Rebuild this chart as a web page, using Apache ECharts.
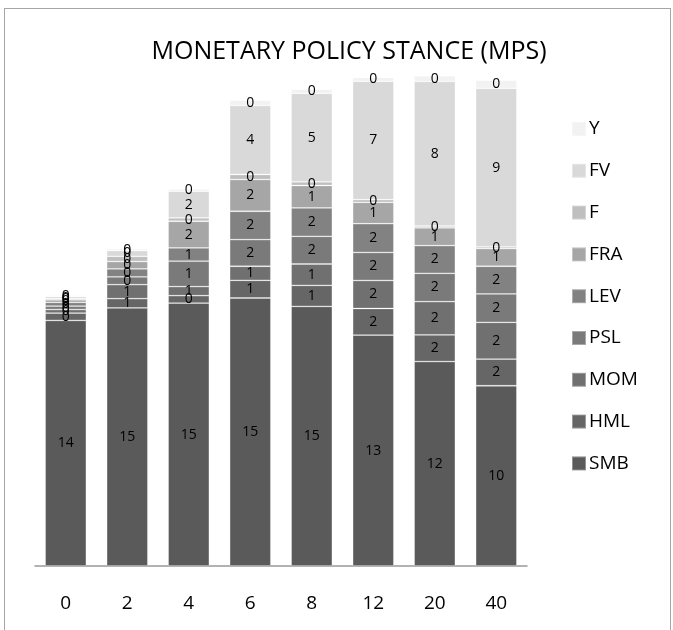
<!DOCTYPE html>
<html>
<head>
<meta charset="utf-8">
<script src="https://cdn.jsdelivr.net/npm/echarts@6/dist/echarts.min.js"></script>
<style>
html,body{margin:0;padding:0;background:#fff;}
#frame{position:absolute;left:4px;top:8px;width:667px;height:640px;border:1.5px solid #a6a6a6;border-bottom:none;box-sizing:border-box;}
#main{position:absolute;left:0;top:0;width:673px;height:630px;}
</style>
</head>
<body>
<div id="frame"></div>
<div id="main"></div>
<script>
var categories = ['0','2','4','6','8','12','20','40'];
var seriesNames = ['SMB','HML','MOM','PSL','LEV','FRA','F','FV','Y'];
var SMB = [14.02, 14.73, 15.01, 15.30, 14.82, 13.18, 11.67, 10.29];
var HML = [0.42, 0.53, 0.42, 1.01, 1.20, 1.52, 1.52, 1.52];
var MOM = [0.20, 0.80, 0.52, 0.80, 1.22, 1.60, 1.90, 2.10];
var PSL = [0.20, 0.45, 1.45, 1.52, 1.58, 1.60, 1.62, 1.62];
var LEV = [0.21, 0.45, 0.76, 1.62, 1.62, 1.64, 1.58, 1.58];
var FRA = [0.14, 0.42, 1.52, 1.81, 1.28, 1.22, 1.01, 1.01];
var F   = [0.07, 0.30, 0.19, 0.29, 0.21, 0.15, 0.11, 0.10];
var FV  = [0.12, 0.33, 1.52, 3.94, 5.05, 6.76, 8.25, 9.05];
var Y   = [0.07, 0.11, 0.13, 0.29, 0.23, 0.21, 0.32, 0.46];
var legendOrder = ['Y','FV','F','FRA','LEV','PSL','MOM','HML','SMB'];

var values = {SMB:SMB, HML:HML, MOM:MOM, PSL:PSL, LEV:LEV, FRA:FRA, F:F, FV:FV, Y:Y};
var colors = {SMB:'#5a5a5a', HML:'#666666', MOM:'#707070', PSL:'#7a7a7a', LEV:'#828282', FRA:'#a6a6a6', F:'#bfbfbf', FV:'#d9d9d9', Y:'#f2f2f2'};
var FONT = '"Open Sans", "Noto Sans", sans-serif';

var chart = echarts.init(document.getElementById('main'));
chart.setOption({
  animation: false,
  title: {
    text: 'MONETARY POLICY STANCE (MPS)',
    left: 344, top: 34, textAlign: 'center',
    textStyle: {fontFamily: FONT, fontSize: 25, fontWeight: 'normal', color: '#000'}
  },
  legend: {
    orient: 'vertical', left: 566, top: 112,
    itemWidth: 14, itemHeight: 14, itemGap: 17.8, icon: 'rect',
    data: legendOrder,
    textStyle: {fontFamily: FONT, fontSize: 19, color: '#000', lineHeight: 24, padding: [0,0,0,-2]}
  },
  grid: {left: 35, right: 146, top: 72, bottom: 64},
  xAxis: {
    type: 'category', data: categories,
    axisLine: {lineStyle: {color: '#999999', width: 1.5}},
    axisTick: {show: false},
    axisLabel: {fontFamily: FONT, fontSize: 19, color: '#000', margin: 28}
  },
  yAxis: {type: 'value', min: 0, max: 28.2, show: false, splitLine: {show: false}},
  series: seriesNames.map(function(n){
    return {
      name: n, type: 'bar', stack: 'total', data: values[n],
      barCategoryGap: '33%',
      itemStyle: {color: colors[n], borderColor: 'rgba(255,255,255,0.35)', borderWidth: 0.8},
      label: {
        show: true, position: 'inside', color: '#000',
        fontFamily: FONT, fontSize: 14,
        formatter: function(p){ return Math.round(p.value); }
      }
    };
  })
});
</script>
</body>
</html>
